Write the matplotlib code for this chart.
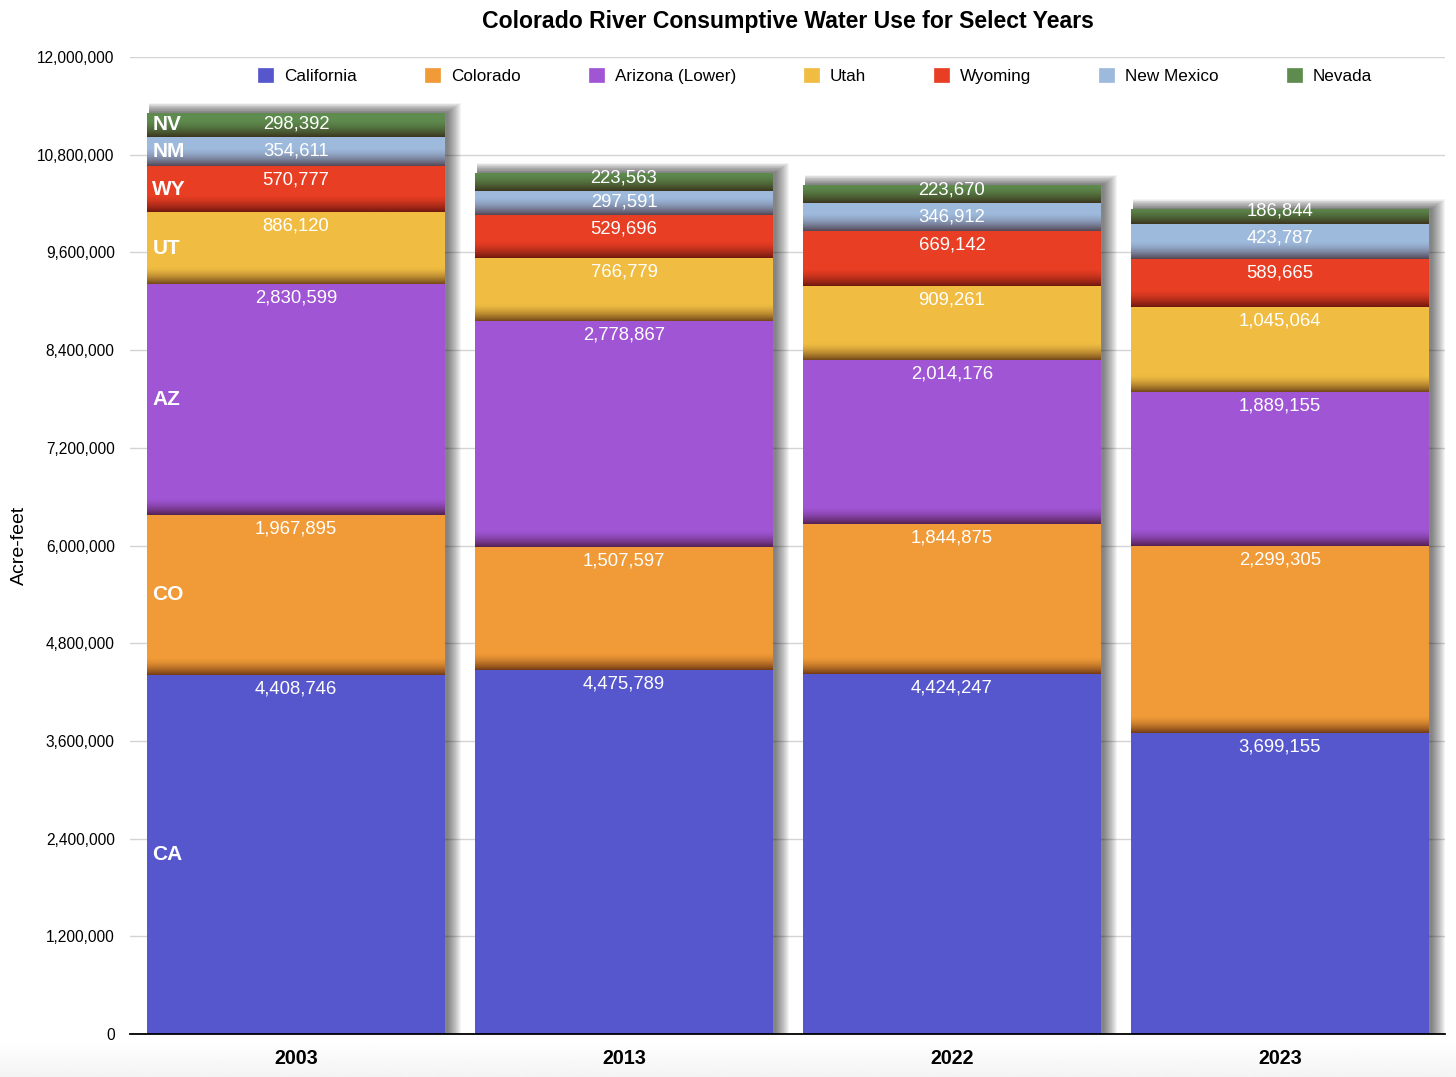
import numpy as np
import matplotlib
matplotlib.use('Agg')
import matplotlib.pyplot as plt
from matplotlib.patches import Patch
from matplotlib.ticker import FuncFormatter, MultipleLocator

plt.rcParams['font.family'] = ['Liberation Sans', 'DejaVu Sans']

years = ['2003', '2013', '2022', '2023']
states = ['California', 'Colorado', 'Arizona (Lower)', 'Utah', 'Wyoming', 'New Mexico', 'Nevada']
abbrev = ['CA', 'CO', 'AZ', 'UT', 'WY', 'NM', 'NV']
california = [4408746, 4475789, 4424247, 3699155]
colorado = [1967895, 1507597, 1844875, 2299305]
arizona = [2830599, 2778867, 2014176, 1889155]
utah = [886120, 766779, 909261, 1045064]
wyoming = [570777, 529696, 669142, 589665]
new_mexico = [354611, 297591, 346912, 423787]
nevada = [298392, 223563, 223670, 186844]
series = [california, colorado, arizona, utah, wyoming, new_mexico, nevada]
colors = ['#5757CD', '#F09B37', '#A055D5', '#F0BD42', '#E83E24', '#9DB9DC', '#5E8C4E']

YMAX = 12000000
W, H = 1456, 1077
fig = plt.figure(figsize=(W / 100, H / 100), dpi=100)

# subtle grey fade at the bottom of the canvas
bg = fig.add_axes([0, 0, 1, 0.034], zorder=-10)
grad = np.linspace(0.955, 1.0, 50)[:, None] * np.ones((50, 2))
bg.imshow(grad, cmap='gray', vmin=0, vmax=1, aspect='auto', origin='lower',
          extent=[0, 1, 0, 1], interpolation='bilinear')
bg.axis('off')

ax = fig.add_axes([0.0893, 0.0399, 0.9031, 0.9071])
ax.set_facecolor('none')
axw_px = 0.9031 * W
axh_px = 0.9071 * H

x = np.arange(len(years))
width = 0.908
xlim = (-0.506, 3.503)
px_x = (xlim[1] - xlim[0]) / axw_px
px_y = YMAX / axh_px
totals = np.sum(np.array(series), axis=0)

# blurred drop shadow behind each stack (layered translucent bars, growing right and up)
for k in range(1, 15):
    ax.bar(x - width / 2 + px_x * 2, totals + px_y * k * 0.7, width=width + px_x * k * 1.0,
           align='edge', color='black', alpha=0.045, zorder=1, linewidth=0)

bottom = np.zeros(len(years))
for j, (s, vals, col, ab) in enumerate(zip(states, series, colors, abbrev)):
    vals = np.array(vals, dtype=float)
    ax.bar(x, vals, width=width, bottom=bottom, color=col, zorder=2, linewidth=0)
    for i in range(len(years)):
        seg_px = vals[i] / px_y
        if j > 0:
            n = max(int(seg_px), 2)
            rows = np.arange(n)
            alpha = np.clip(1 - rows / 17.0, 0, 1) ** 1.6 * 0.6
            img = np.zeros((n, 2, 4))
            img[..., 0] = 0.15
            img[..., 3] = alpha[:, None]
            ax.imshow(img, extent=[x[i] - width / 2, x[i] + width / 2, bottom[i], bottom[i] + vals[i]],
                      origin='lower', aspect='auto', interpolation='bilinear', zorder=3)
        off = min(14.0, seg_px - 13.0)
        ax.annotate(f'{int(vals[i]):,}', (x[i], bottom[i] + vals[i]), xytext=(0, -off),
                    textcoords='offset pixels', ha='center', va='center', color='white',
                    fontsize=13.3, zorder=5)
    ax.text(x[0] - width / 2 + 0.016, bottom[0] + vals[0] / 2, ab, ha='left', va='center',
            color='white', fontsize=15, fontweight='bold', zorder=5)
    bottom = bottom + vals

ax.set_xlim(*xlim)
ax.set_ylim(0, YMAX)
ax.yaxis.set_major_locator(MultipleLocator(1200000))
ax.yaxis.set_major_formatter(FuncFormatter(lambda v, p: f'{int(v):,}'))
ax.grid(axis='y', color='#d4d4d4', linewidth=1, zorder=0)
ax.set_axisbelow(True)
ax.set_xticks(x)
ax.set_xticklabels(years, fontsize=14.2, fontweight='bold')
ax.tick_params(axis='x', length=0, pad=11)
ax.tick_params(axis='y', length=0, pad=11, labelsize=11.2)
for sp in ['top', 'right', 'left']:
    ax.spines[sp].set_visible(False)
ax.spines['bottom'].set_color('black')
ax.spines['bottom'].set_linewidth(1.3)
ax.spines['bottom'].set_zorder(6)

ax.set_ylabel('Acre-feet', fontsize=14, labelpad=7)
ax.set_title('Colorado River Consumptive Water Use for Select Years', fontsize=16.6,
             fontweight='bold', pad=21)

handles = [Patch(facecolor=c, edgecolor=c, linewidth=0.5) for c in colors]
ax.legend(handles, states, loc='center', bbox_to_anchor=(0.521, 0.9806), ncol=7,
          frameon=False, fontsize=12.3, handlelength=0.88, handleheight=0.88,
          handletextpad=0.65, columnspacing=3.97)

fig.savefig('out.png', dpi=100)
